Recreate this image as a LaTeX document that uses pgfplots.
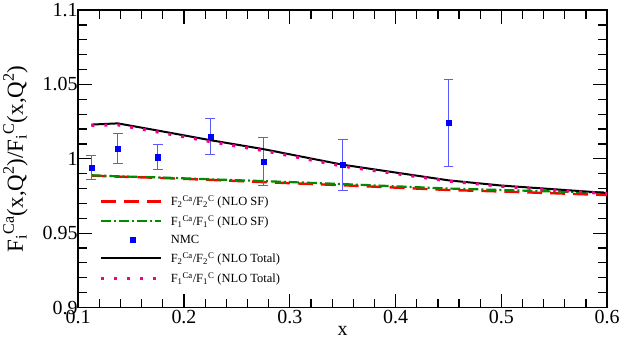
\documentclass[border=0pt]{standalone}
\usepackage{fontspec}
\setmainfont{Liberation Serif}
\usepackage{pgfplots}
\pgfplotsset{compat=1.18}

\definecolor{nmcblue}{RGB}{0,0,255}
\definecolor{errblue}{RGB}{90,90,255}
\definecolor{sfgreen}{RGB}{0,140,0}

\begin{document}
\begin{tikzpicture}
\begin{axis}[
    scale only axis,
    width=530pt, height=298pt,
    xmin=0.1, xmax=0.6, ymin=0.9, ymax=1.1,
    xtick={0.1,0.2,0.3,0.4,0.5,0.6},
    ytick={0.9,0.95,1,1.05,1.1},
    minor x tick num=4, minor y tick num=4,
    tick align=inside,
    major tick length=14pt, minor tick length=9pt,
    every tick/.style={black, line width=1.2pt},
    axis line style={line width=1.6pt},
    tick label style={font=\fontsize{20}{20}\selectfont},
    /pgf/number format/assume math mode=true,
    /pgf/number format/fixed,
    /pgf/number format/precision=2,
    yticklabel style={xshift=3pt},
    xticklabel style={yshift=1pt},
    xlabel={x},
    xlabel style={font=\fontsize{20}{20}\selectfont, yshift=4pt},
    ylabel={F\textsubscript{i}\textsuperscript{Ca}(x,Q\textsuperscript{2})/F\textsubscript{i}\textsuperscript{C}(x,Q\textsuperscript{2})},
    ylabel style={font=\fontsize{23}{23}\selectfont, yshift=8pt},
    legend style={at={(0.035,0.39)}, anchor=north west, draw=none, fill=none,
        font=\fontsize{12.5}{14}\selectfont, row sep=4pt},
    legend cell align=left,
    legend image code/.code={\draw[#1] (0pt,0pt) -- (60pt,0pt); \path (66pt,0pt);},
]
% F2 NLO SF
\addplot[red, line width=2.4pt, dash pattern=on 15pt off 8pt] coordinates {
 (0.1125,0.9887)(0.1375,0.9880)(0.175,0.9872)(0.225,0.9858)(0.275,0.9843)
 (0.35,0.9822)(0.45,0.9790)(0.5,0.9780)(0.55,0.9768)(0.6,0.9756)};
\addlegendentry{F\textsubscript{2}\textsuperscript{Ca}/F\textsubscript{2}\textsuperscript{C} (NLO SF)}
% F1 NLO SF
\addplot[sfgreen, line width=2.2pt, dash pattern=on 10pt off 3pt on 2pt off 3pt] coordinates {
 (0.1125,0.9889)(0.1375,0.9882)(0.175,0.9875)(0.225,0.9862)(0.275,0.9850)
 (0.35,0.9830)(0.45,0.9800)(0.5,0.9790)(0.55,0.9780)(0.6,0.9772)};
\addlegendentry{F\textsubscript{1}\textsuperscript{Ca}/F\textsubscript{1}\textsuperscript{C} (NLO SF)}
% NMC data
\addplot[only marks, mark=square*, mark size=2.6pt, color=nmcblue,
    legend image code/.code={\draw[nmcblue, mark=square*, mark size=2.6pt] plot coordinates {(31pt,0pt)}; \path (0pt,0pt) (66pt,0pt);},
    error bars/.cd, y dir=both, y explicit,
    error bar style={draw=errblue, line width=1pt},
    error mark options={draw=errblue, mark size=5pt, line width=1pt, rotate=90}]
 coordinates {
 (0.1125,0.994) +- (0,0.008)
 (0.1375,1.007) +- (0,0.010)
 (0.175,1.001) +- (0,0.0085)
 (0.225,1.015) +- (0,0.012)
 (0.275,0.998) +- (0,0.016)
 (0.35,0.996) +- (0,0.017)
 (0.45,1.024) +- (0,0.029)};
\addlegendentry{NMC}
% F2 NLO Total
\addplot[black, line width=2pt] coordinates {
 (0.1125,1.0230)(0.1375,1.0238)(0.175,1.0190)(0.225,1.0125)(0.275,1.0065)
 (0.35,0.9960)(0.45,0.9855)(0.5,0.9820)(0.55,0.9795)(0.6,0.9770)};
\addlegendentry{F\textsubscript{2}\textsuperscript{Ca}/F\textsubscript{2}\textsuperscript{C} (NLO Total)}
% F1 NLO Total
\addplot[magenta, line width=3pt, dash pattern=on 3pt off 10pt] coordinates {
 (0.1125,1.0224)(0.1375,1.0228)(0.175,1.0180)(0.225,1.0115)(0.275,1.0055)
 (0.35,0.9950)(0.45,0.9850)(0.5,0.9815)(0.55,0.9790)(0.6,0.9765)};
\addlegendentry{F\textsubscript{1}\textsuperscript{Ca}/F\textsubscript{1}\textsuperscript{C} (NLO Total)}
\end{axis}
\end{tikzpicture}
\end{document}
